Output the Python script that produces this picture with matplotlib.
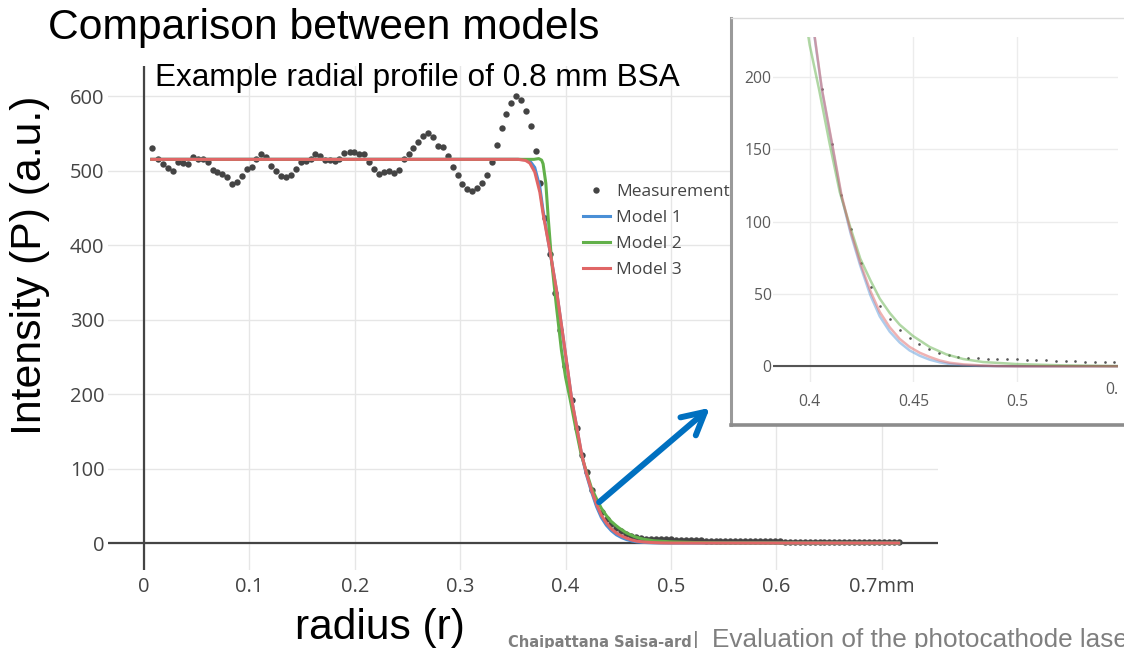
#imports
import matplotlib
matplotlib.use("Agg")
import matplotlib.pyplot as plt
from matplotlib import font_manager
from matplotlib.lines import Line2D
from matplotlib.patches import FancyArrowPatch, ArrowStyle
from matplotlib.transforms import Bbox, TransformedBbox

#measured radial profile (r in mm, intensity in a.u.)
meas_r = [0.0073, 0.0136, 0.0184, 0.0231, 0.0273, 0.032, 0.0368, 0.0415, 0.0463, 0.051,
          0.0555, 0.0605, 0.065, 0.069, 0.0738, 0.0786, 0.0833, 0.0878, 0.0928, 0.0973,
          0.102, 0.1065, 0.111, 0.116, 0.1207, 0.1255, 0.13, 0.1347, 0.1394, 0.1438,
          0.1486, 0.1533, 0.158, 0.1623, 0.167, 0.1718, 0.1762, 0.181, 0.1854, 0.19,
          0.195, 0.1996, 0.2044, 0.209, 0.2139, 0.2186, 0.223, 0.2278, 0.2326, 0.2373,
          0.2417, 0.2462, 0.251, 0.2554, 0.2601, 0.2646, 0.2693, 0.274, 0.2788, 0.2836,
          0.2883, 0.2928, 0.2975, 0.302, 0.3064, 0.3115, 0.3162, 0.3207, 0.3251, 0.3298,
          0.3346, 0.3394, 0.3438, 0.3486, 0.3533, 0.358, 0.3628, 0.3672, 0.3717, 0.3761,
          0.3808, 0.3855, 0.3902, 0.3949, 0.3996, 0.4059, 0.4106, 0.4153, 0.42, 0.4247,
          0.4294, 0.4341, 0.4388, 0.4435, 0.4482, 0.4529, 0.4576, 0.4623, 0.467, 0.4717,
          0.4764, 0.4811, 0.4858, 0.4905, 0.4952, 0.4999, 0.5046, 0.5093, 0.514, 0.5187,
          0.5234, 0.5281, 0.5328, 0.5375, 0.5422, 0.5469, 0.5516, 0.5563, 0.561, 0.5657,
          0.5704, 0.5751, 0.5798, 0.5845, 0.5892, 0.5939, 0.5986, 0.6033, 0.608, 0.6127,
          0.6174, 0.6221, 0.6268, 0.6315, 0.6362, 0.6409, 0.6456, 0.6503, 0.655, 0.6597,
          0.6644, 0.6691, 0.6738, 0.6785, 0.6832, 0.6879, 0.6926, 0.6973, 0.702, 0.7067,
          0.7114, 0.7161]
meas_i = [530.6, 515, 508.7, 503, 499.8, 512, 509.6, 508.7, 518.5, 515,
          515, 512, 500.7, 497.6, 496, 490.8, 481.5, 485, 493, 501.6,
          505, 515.8, 522, 518.5, 506, 499.3, 492.6, 491.7, 494, 502,
          511, 512.8, 515.8, 521.7, 519.5, 514.5, 514, 512.3, 516, 523,
          525, 525, 522, 522, 512, 502, 495.7, 498.4, 499.3, 496.2,
          500.7, 515, 521.7, 529.8, 538.7, 546.7, 550, 545.4, 533, 531,
          519.5, 505, 494, 481.5, 474.8, 472.5, 476, 482.8, 494, 512,
          534, 556.6, 575.4, 590, 600, 594.6, 580, 559.7, 526.6, 483.6,
          436, 388, 335, 286, 237, 191.5, 153.9, 118.7, 95, 71.4,
          54.8, 41.7, 32.9, 25.3, 19.6, 15.7, 12.2, 9.2, 7.8, 6.7,
          6.0, 5.5, 5.1, 5.1, 4.8, 4.8, 4.6, 4.4, 4.4, 3.9,
          3.7, 3.5, 3.2, 3.0, 3.0, 2.8, 2.7, 2.6, 2.6, 2.5,
          2.4, 2.4, 2.3, 2.3, 2.2, 2.2, 2.1, 2.1, 2.0, 2.0,
          2.0, 1.9, 1.9, 1.9, 1.8, 1.8, 1.8, 1.7, 1.7, 1.7,
          1.7, 1.6, 1.6, 1.6, 1.6, 1.5, 1.5, 1.5, 1.5, 1.5,
          1.4, 1.4]

#model curves
m1_r = [0.0073, 0.355, 0.362, 0.366, 0.3707, 0.3755, 0.3786, 0.385, 0.3913, 0.3976,
        0.4024, 0.4059, 0.4108, 0.4153, 0.4198, 0.4244, 0.4293, 0.4338, 0.4386, 0.4434,
        0.4482, 0.4531, 0.4579, 0.4627, 0.4675, 0.474, 0.482, 0.49, 0.5, 0.716]
m1_i = [515, 515, 514.5, 513, 504, 478, 446, 393, 339, 276,
        227, 191, 153, 117.5, 91.5, 69.5, 49, 34.5, 24, 16.5,
        11, 7.3, 4.6, 2.8, 1.6, 0.8, 0.3, 0.1, 0, 0]

m2_r = [0.0073, 0.37, 0.3745, 0.3772, 0.3786, 0.3812, 0.3834, 0.3866, 0.3913, 0.396,
        0.4, 0.4045, 0.4096, 0.4145, 0.4193, 0.4244, 0.4293, 0.4338, 0.4386, 0.4434,
        0.4498, 0.4579, 0.4659, 0.474, 0.4836, 0.5, 0.5222, 0.548, 0.716]
m2_i = [515, 515, 516, 514, 509, 483, 438, 380, 317, 259,
        222, 191.5, 154, 120.5, 97.5, 74.4, 59.4, 46.8, 36.9, 28.8,
        21, 13.4, 8.3, 5.1, 3, 1.6, 0.7, 0.2, 0]

m3_r = [0.0073, 0.355, 0.362, 0.366, 0.3707, 0.3755, 0.3786, 0.385, 0.3913, 0.3976,
        0.4024, 0.4059, 0.4108, 0.4153, 0.4198, 0.4244, 0.4293, 0.4338, 0.4386, 0.4434,
        0.4482, 0.4531, 0.4579, 0.4627, 0.4675, 0.474, 0.482, 0.49, 0.5, 0.716]
m3_i = [515, 515, 513.5, 510, 498, 471, 442, 393, 340, 277,
        228, 191.5, 154, 118.7, 93, 71.4, 52, 37.6, 27, 19,
        13.4, 9.4, 6.5, 4.1, 2.5, 1.4, 0.7, 0.2, 0, 0]

#ticks
x_ticks = [0, 0.1, 0.2, 0.3, 0.4, 0.5, 0.6, 0.7]
x_labels = ['0', '0.1', '0.2', '0.3', '0.4', '0.5', '0.6', '0.7mm']
y_ticks = [0, 100, 200, 300, 400, 500, 600]
in_x_ticks = [0.4, 0.45, 0.5]
in_x_labels = ['0.4', '0.45', '0.5']
in_y_ticks = [0, 50, 100, 150, 200]

#colours
c_meas = '#444444'
c_m1 = '#4a8fd6'
c_m2 = '#62b04a'
c_m3 = '#e06666'
tick_font = 'Open Sans'
slide_font = 'Liberation Sans'

#a condensed bold face for the author name, if one is installed
narrow_font = None
for f in font_manager.fontManager.ttflist:
    if f.stretch in ('condensed', 'semi-condensed', 'extra-condensed') or 'Narrow' in f.name \
            or 'Condensed' in f.name:
        if f.weight in ('bold', 700, 'semibold', 600):
            narrow_font = f.fname
            break

W, H = 1124, 648
fig = plt.figure(figsize=(W / 100, H / 100), dpi=100)

def box(x0, y0, x1, y1):
    #pixel box (from top-left) to figure fraction
    return [x0 / W, 1 - y1 / H, (x1 - x0) / W, (y1 - y0) / H]

#main chart
ax = fig.add_axes(box(108, 66, 938, 570))
ax.set_xlim(-0.0342, 0.7533)
ax.set_ylim(-36.2, 640.3)
for s in ax.spines.values():
    s.set_visible(False)
ax.set_xticks(x_ticks)
ax.set_xticklabels(x_labels)
ax.set_yticks(y_ticks)
ax.tick_params(length=0, labelsize=14.5, labelcolor='#444444')
ax.tick_params(axis='y', pad=2.5)
ax.tick_params(axis='x', pad=5)
for lab in ax.get_xticklabels() + ax.get_yticklabels():
    lab.set_fontfamily(tick_font)
ax.grid(True, color='#e6e6e6', lw=1)
ax.set_axisbelow(True)
ax.axhline(0, color='#444444', lw=1.6, zorder=1)
ax.axvline(0, color='#444444', lw=1.6, zorder=1)

ax.plot(meas_r, meas_i, 'o', color=c_meas, ms=4.6, mew=0, zorder=2)
ax.plot(m1_r, m1_i, color=c_m1, lw=2.2, solid_joinstyle='round', zorder=3)
ax.plot(m2_r, m2_i, color=c_m2, lw=2.2, solid_joinstyle='round', zorder=3)
ax.plot(m3_r, m3_i, color=c_m3, lw=2.2, solid_joinstyle='round', zorder=3)

handles = [Line2D([], [], ls='none', marker='o', color=c_meas, ms=4.6, mew=0),
           Line2D([], [], color=c_m1, lw=2.2),
           Line2D([], [], color=c_m2, lw=2.2),
           Line2D([], [], color=c_m3, lw=2.2)]
leg = ax.legend(handles, ['Measurements', 'Model 1', 'Model 2', 'Model 3'],
                loc='upper left', bbox_to_anchor=(583 / W, 1 - 184 / H),
                bbox_transform=fig.transFigure, frameon=False, borderpad=0,
                borderaxespad=0, handlelength=1.55, handletextpad=0.35,
                labelspacing=0.56, prop={'family': tick_font, 'size': 12.5})
for t in leg.get_texts():
    t.set_color('#444444')

#inset (zoomed screenshot of the tail)
frame = fig.add_axes(box(731, 18, 1130, 425))
frame.set_xticks([])
frame.set_yticks([])
frame.set_facecolor('white')
frame.spines['right'].set_visible(False)
frame.spines['top'].set_color('#dcdcdc')
frame.spines['top'].set_linewidth(1)
frame.spines['left'].set_color('#9a9a9a')
frame.spines['left'].set_linewidth(2.2)
frame.spines['bottom'].set_color('#8c8c8c')
frame.spines['bottom'].set_linewidth(2.6)

ins = fig.add_axes(box(773, 37, 1118, 382))
ins.set_facecolor('none')
ins.set_xlim(0.3823, 0.5487)
ins.set_ylim(-10.8, 227.6)
for s in ins.spines.values():
    s.set_visible(False)
ins.set_xticks(in_x_ticks)
ins.set_xticklabels(in_x_labels)
ins.set_yticks(in_y_ticks)
ins.tick_params(length=0, labelsize=11.3, labelcolor='#5a5a5a')
ins.tick_params(axis='x', pad=9)
ins.tick_params(axis='y', pad=1)
for lab in ins.get_xticklabels() + ins.get_yticklabels():
    lab.set_fontfamily(tick_font)
#the screenshot is cut just after the 0.55 label starts
shot_clip = TransformedBbox(Bbox([[731 / W, 0], [1118 / W, 1]]), fig.transFigure)
cut_lab = ins.text(0.55, -10.8, '0.55', transform=ins.transData, ha='center', va='top',
                   fontsize=11.3, color='#5a5a5a', family=tick_font)
cut_lab.set_clip_box(shot_clip)
cut_lab.set_clip_on(True)
ins.grid(True, color='#ececec', lw=1)
ins.set_axisbelow(True)
ins.axhline(0, color='#555555', lw=1.5, zorder=1)
ins.plot(meas_r, meas_i, 'o', color='#555555', ms=1.9, mew=0, zorder=2)
ins.plot(m1_r, m1_i, color=c_m1, lw=1.8, alpha=0.45, zorder=3)
ins.plot(m2_r, m2_i, color=c_m2, lw=1.8, alpha=0.5, zorder=3)
ins.plot(m3_r, m3_i, color=c_m3, lw=1.8, alpha=0.5, zorder=3)

#arrow from the tail to the inset
arrow = FancyArrowPatch((597 / W, 1 - 504 / H), (712 / W, 1 - 406 / H),
                        transform=fig.transFigure,
                        arrowstyle=ArrowStyle('->', head_length=1.6, head_width=0.85),
                        mutation_scale=10, color='#0070c0', lw=4.3,
                        capstyle='round', joinstyle='round')
fig.add_artist(arrow)

#slide texts
fig.text(48 / W, 1 - 39 / H, 'Comparison between models', fontsize=30.7,
         family=slide_font, va='baseline', ha='left')
fig.text(155 / W, 1 - 86 / H, 'Example radial profile of 0.8 mm BSA', fontsize=22.7,
         family=slide_font, va='baseline', ha='left')
fig.text(30 / W, 1 - 265 / H, 'Intensity (P) (a.u.)', fontsize=30.8, rotation=90,
         family=slide_font, va='center', ha='center')
fig.text(380 / W, 1 - 639 / H, 'radius (r)', fontsize=30.6,
         family=slide_font, va='baseline', ha='center')

#footer: bold name, then the talk title running off the slide
renderer = fig.canvas.get_renderer()
if narrow_font:
    name_prop = font_manager.FontProperties(fname=narrow_font, size=16)
else:
    name_prop = font_manager.FontProperties(family=slide_font, weight='bold', size=16)
name = fig.text(508 / W, 1 - 647 / H, 'Chaipattana Saisa-ard', fontproperties=name_prop,
                color='#7f7f7f', va='baseline', ha='left')
name_w = name.get_window_extent(renderer).width
name.set_fontsize(16 * 184 / name_w)
name_w = name.get_window_extent(renderer).width
fig.text((509 + name_w) / W, 1 - 647 / H, '|', fontsize=16, color='#7f7f7f',
         family=slide_font, va='baseline', ha='left')
fig.text(712 / W, 1 - 647 / H, 'Evaluation of the photocathode laser', fontsize=18.8,
         color='#7f7f7f', family=slide_font, va='baseline', ha='left')

fig.savefig('out.png', dpi=100)
